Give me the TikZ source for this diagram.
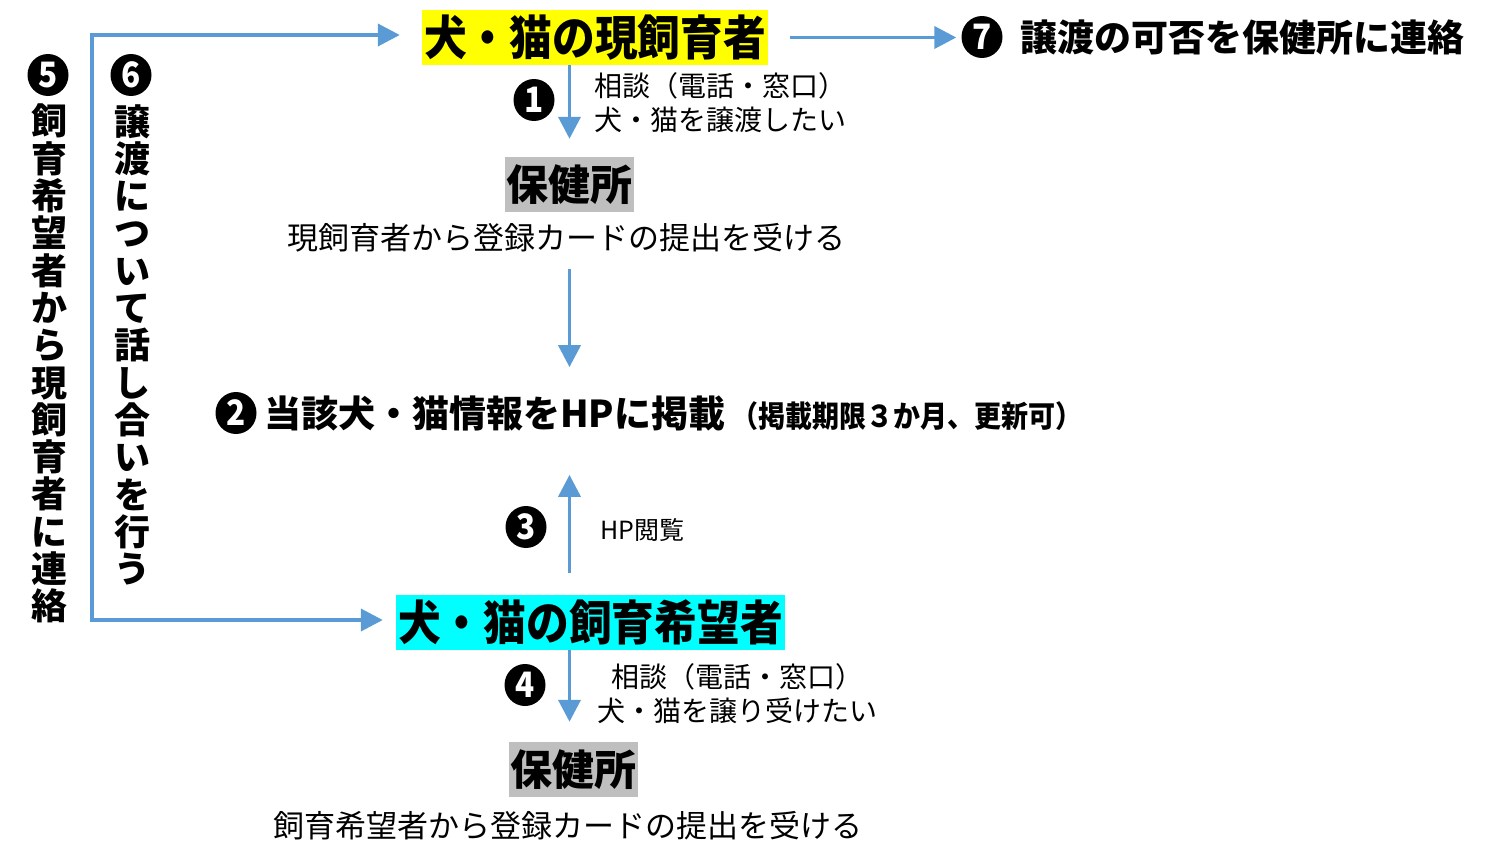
\documentclass[tikz,border=0pt]{standalone}
\usepackage{fontspec}
\setmainfont{Noto Sans CJK JP}
\newfontfamily\condjp{Noto Sans CJK JP}[FakeStretch=0.9]
\usetikzlibrary{arrows.meta,shapes.geometric,calc}
\definecolor{arrowblue}{HTML}{5B9BD5}
\definecolor{ownerfill}{HTML}{FFFF00}
\definecolor{seekerfill}{HTML}{00FFFF}
\definecolor{officefill}{HTML}{BFBFBF}
\newcommand\setfs[2]{\fontsize{#1}{#2}\selectfont}
\begin{document}
\begin{tikzpicture}[x=1pt,y=-1pt,
  conn/.style={draw=arrowblue, line width=3.8pt, -{Triangle[length=22pt,width=22pt]}},
  numcirc/.style={ellipse, fill=black, inner sep=0pt, minimum width=41pt, minimum height=42pt, text=white, font=\condjp\bfseries\setfs{35}{35}},
  titlebox/.style={inner sep=0pt, font=\condjp\bfseries\setfs{47.5}{47.5}},
  officebox/.style={inner sep=0pt, fill=officefill, minimum width=129pt, minimum height=55pt, font=\bfseries\setfs{42}{42}},
  subtext/.style={inner sep=0pt, font=\setfs{31}{31}},
  labeltext/.style={inner sep=0pt, font=\setfs{28}{34}},
  boldtext/.style={inner sep=0pt, font=\bfseries\setfs{37}{37}},
  vtext/.style={inner sep=0pt, align=center, anchor=north, font=\bfseries\setfs{36}{37.3}}
]
\useasboundingbox (0,0) rectangle (1490,867);

% main nodes
\node[titlebox, fill=ownerfill, minimum width=346pt, minimum height=55pt] (owner) at (595,37.5) {犬・猫の現飼育者};
\node[officebox] (office1) at (569.5,184.5) {保健所};
\node[subtext] (sub1) at (566,238) {現飼育者から登録カードの提出を受ける};
\node[numcirc] (n2) at (236,413) {2};
\node[anchor=west, inner sep=0pt] (t2) at (264,413) {\bfseries\setfs{37}{37}当該犬・猫情報をHPに掲載\hspace{6pt}\condjp\bfseries\setfs{30}{30}（掲載期限３か月、更新可）};
\node[titlebox, fill=seekerfill, minimum width=389pt, minimum height=55pt] (seeker) at (590.5,622.5) {犬・猫の飼育希望者};
\node[officebox] (office2) at (573,769.5) {保健所};
\node[subtext] (sub2) at (567.5,826) {飼育希望者から登録カードの提出を受ける};

% step 7
\node[numcirc] (n7) at (982,37) {7};
\node[boldtext, anchor=west] (t7) at (1020,37) {譲渡の可否を保健所に連絡};

% step 1
\node[numcirc] (n1) at (534,100) {1};
\node[labeltext, anchor=north west, align=left] (l1) at (594,72) {相談（電話・窓口）\\犬・猫を譲渡したい};

% step 3
\node[numcirc] (n3) at (526,527) {3};
\node[anchor=west, inner sep=0pt, font=\setfs{25}{25}] (l3) at (600,530) {HP閲覧};

% step 4
\node[numcirc] (n4) at (525,685) {4};
\node[labeltext, anchor=north, align=center] (l4) at (737,663) {相談（電話・窓口）\\犬・猫を譲り受けたい};

% steps 5 and 6 (vertical text)
\node[numcirc] (n5) at (48,75) {5};
\node[vtext] (t5) at (49,104) {飼\\育\\希\\望\\者\\か\\ら\\現\\飼\\育\\者\\に\\連\\絡};
\node[numcirc] (n6) at (131,75) {6};
\node[vtext] (t6) at (132,104) {譲\\渡\\に\\つ\\い\\て\\話\\し\\合\\い\\を\\行\\う};

% connectors
\coordinate (c1) at (92,35);
\coordinate (c2) at (92,620);
\draw[conn, {Triangle[length=22pt,width=22pt]}-{Triangle[length=22pt,width=22pt]}, shorten <=22pt, shorten >=13pt]
  (c1 -| owner.west) -- (c1) -- (c2) -- (c2 -| seeker.west);
\draw[conn, shorten <=22pt, shorten >=5pt] (owner.east) -- (owner.east -| n7.west);
\draw[conn, shorten >=18pt] (owner.south -| office1.north) -- (office1.north);
\draw[conn, shorten <=16pt, shorten >=28pt] (sub1.south -| office1.south) -- (t2.north -| office1.south);
\draw[conn, shorten <=22pt, shorten >=44pt] (seeker.north -| office1.south) -- (t2.south -| office1.south);
\draw[conn, shorten >=20pt] (seeker.south -| office1.south) -- (office2.north -| office1.south);
\end{tikzpicture}
\end{document}
